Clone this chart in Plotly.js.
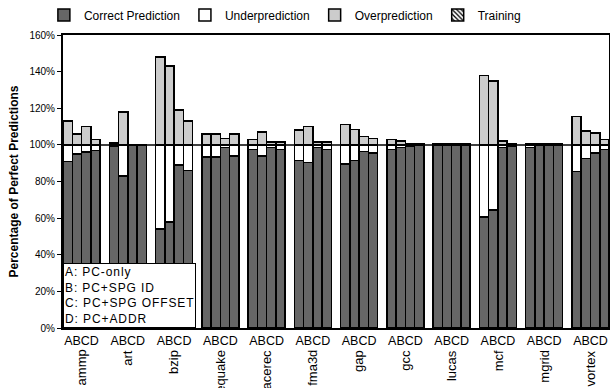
<!DOCTYPE html>
<html>
<head>
<meta charset="utf-8">
<script src="https://cdn.plot.ly/plotly-3.0.1.min.js"></script>
<style>html,body{margin:0;padding:0;background:#fff;}#chart{width:610px;height:388px;}</style>
</head>
<body>
<div id="chart"></div>
<script>
const benchmarks = ["ammp","art","bzip","equake","facerec","fma3d","gap","gcc","lucas","mcf","mgrid","vortex"];
const configs = ["A","B","C","D"];
const groupLabel = "ABCD";
const configNotes = ["A: PC-only","B: PC+SPG ID","C: PC+SPG OFFSET","D: PC+ADDR"];
const yTicks = [0,20,40,60,80,100,120,140,160];
const perfectLevel = 100;

// values per benchmark, for configs A, B, C, D (percent of perfect predictions)
const correct = [
  [91,95,96,97],[99,83,100,100],[54,58,89,86],[93.5,93.5,98.5,94],
  [97.5,94,98.5,97.5],[91.5,90.5,98.5,97.5],[89.5,91.5,96.5,95.5],[97.5,98.5,99.5,100],
  [100,100,100,100],[60.5,64.5,98.5,99.5],[98.5,100,100,100],[85.5,92.5,95.5,97.5]
];
const under = [
  [9,5,4,3],[1,17,0,0],[46,42,11,14],[6.5,6.5,1.5,6],
  [2.5,6,1.5,2.5],[8.5,9.5,1.5,2.5],[10.5,8.5,3.5,4.5],[2.5,1.5,0.5,0],
  [0,0,0,0],[39.5,35.5,1.5,0.5],[1.5,0,0,0],[14.5,7.5,4.5,2.5]
];
const over = [
  [13,6,10,3],[1,18,0,0],[48,43,19,13],[6,6,3.5,6],
  [3,7,1.5,1.5],[8,10,1.5,1.5],[11,8.5,4.5,3.5],[3,2,0.7,0.5],
  [0.7,0.7,0.5,0.5],[38,35,2,0.7],[0.7,0.7,0.5,0.5],[15.5,7.5,6.5,3]
];
const training = [
  [0,0,0,0],[0,0,0,0],[0,0,0,0],[0,0,0,0],
  [0,0,0,0],[0,0,0,0],[0,0,0,0],[0,0,0,0],
  [0,0,0,0],[0,0,0,0],[0,0,0,0],[0,0,0,0]
];

const slotsPerGroup = configs.length + 1;
const xs = [];
benchmarks.forEach((b,g)=>configs.forEach((c,k)=>xs.push(g*slotsPerGroup+k)));
const flat = arr => arr.flat();
const lineStyle = {color:'#000', width:1.5};
const FONT = 'Liberation Sans, Arial, sans-serif';

const traces = [
  {name:'Correct Prediction', y:flat(correct), marker:{color:'#666666', line:lineStyle}},
  {name:'Underprediction', y:flat(under), marker:{color:'#ffffff', line:lineStyle}},
  {name:'Overprediction', y:flat(over), marker:{color:'#cccccc', line:lineStyle}},
  {name:'Training', y:flat(training), marker:{color:'#ffffff', line:lineStyle, pattern:{shape:'\\', fgcolor:'#000', bgcolor:'#ffffff', size:4, solidity:0.4}}}
].map(t=>Object.assign({type:'bar', x:xs, hoverinfo:'skip'}, t));

const groupCenters = benchmarks.map((b,g)=>g*slotsPerGroup+(configs.length-1)/2);

const annotations = benchmarks.map((b,g)=>({
  x:groupCenters[g], xref:'x', y:-0.068, yref:'paper', text:b, showarrow:false,
  textangle:-90, xanchor:'center', yanchor:'top', font:{family:FONT, size:13, color:'#000'}
}));
annotations.push({
  x:0, xref:'paper', y:0, yref:'paper', xanchor:'left', yanchor:'bottom', showarrow:false,
  align:'left', text:configNotes.map(s=>'<span style="letter-spacing:0.9px">'+s+'</span>').join('<br>'),
  bgcolor:'#ffffff', bordercolor:'#000', borderwidth:1,
  borderpad:1, font:{family:FONT, size:12, color:'#000'}
});

const layout = {
  width:610, height:388,
  margin:{l:63, r:1, t:33, b:60},
  paper_bgcolor:'#fff', plot_bgcolor:'#fff',
  barmode:'stack', bargap:0,
  showlegend:true,
  legend:{orientation:'h', x:-0.035, xanchor:'left', y:1.068, yanchor:'middle',
          font:{family:FONT, size:12, color:'#000'}, itemwidth:30, traceorder:'normal', tracegroupgap:0},
  font:{family:FONT, color:'#000'},
  xaxis:{range:[-0.5, benchmarks.length*slotsPerGroup-1.5], tickvals:groupCenters,
         ticktext:benchmarks.map(()=>groupLabel), ticks:'', showgrid:false, zeroline:false,
         showline:true, linecolor:'#000', linewidth:2, mirror:true,
         tickfont:{family:FONT, size:12.5, color:'#000'}},
  yaxis:{range:[0,160], tickvals:yTicks, ticktext:yTicks.map(v=>v+'%'), ticks:'outside', ticklen:4,
         tickcolor:'#000', showgrid:false, zeroline:false, showline:true, linecolor:'#000', linewidth:2,
         mirror:true, tickfont:{family:FONT, size:10, color:'#000'},
         title:{text:'<b>Percentage of Perfect Predictions</b>', font:{family:FONT, size:12, color:'#000'}, standoff:8}},
  shapes:[{type:'line', xref:'paper', x0:0, x1:1, yref:'y', y0:perfectLevel, y1:perfectLevel,
           line:{color:'#000', width:1.5}, layer:'above'}],
  annotations:annotations
};

Plotly.newPlot('chart', traces, layout, {staticPlot:true, displayModeBar:false});
</script>
</body>
</html>
